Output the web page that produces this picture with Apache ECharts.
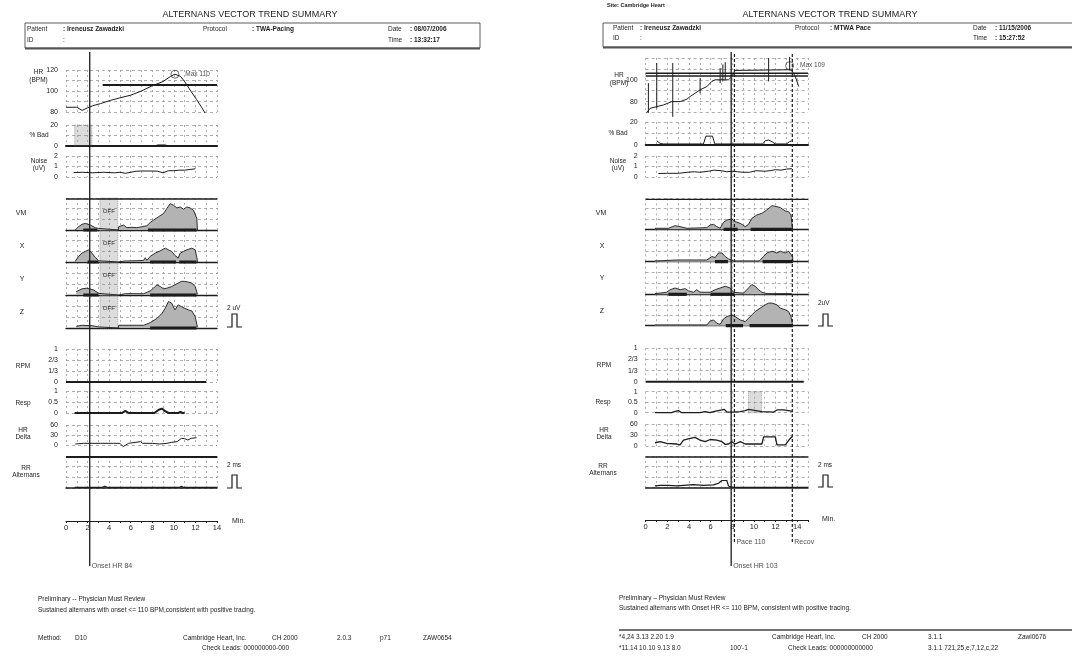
<!DOCTYPE html>
<html><head><meta charset="utf-8">
<script src="https://cdn.jsdelivr.net/npm/echarts@6/dist/echarts.min.js"></script>
<style>html,body{margin:0;padding:0;background:#fff}#c{width:1072px;height:659px}</style>
</head><body><div id="c"></div>
<script>
// ---------------- DATA ----------------
// Left report (08/07/2006, TWA-Pacing)  — [minutes, value]
const L_HR = [[0,84.5],[1,84.5],[1.5,81.5],[2,84],[2.5,86],[3.2,88],[4.1,91],[5,93.5],[6,96],[7,100],[8,105],[9,109],[9.7,114],[10.1,116],[10.6,114],[11,109],[11.5,101],[12.1,92],[12.6,84],[12.9,79]];
const L_HR_MAX = [10.1,116];
const L_HR_TARGET = [[3.4,105.7],[14,105.7]];
const L_BAD = [[0.8,0],[8.2,0],[8.5,1],[9.2,1],[9.5,0],[12.9,0]];
const L_BAD_HATCH = [0.8,2.4];
const L_NOISE = [[0.7,0.42],[1.5,0.45],[2.5,0.4],[3.5,0.45],[4.5,0.4],[5,0.45],[5.5,0.35],[6,0.45],[6.5,0.55],[7,0.57],[7.5,0.57],[8,0.57],[8.5,0.55],[9,0.4],[9.5,0.6],[10,0.6],[10.5,0.65],[11,0.65],[11.5,0.72],[12,0.78]];
const L_VM = [[0.85,0],[1.17,0.31],[1.48,0.53],[1.79,0.62],[2.25,0.46],[2.72,0.22],[3.02,0.15],[3.05,0],[4.85,0],[4.88,0.31],[5.34,0.46],[5.65,0.22],[6.11,0.25],[6.57,0.22],[7.04,0.31],[7.5,0.4],[7.81,0.71],[8.12,0.93],[8.58,1.24],[9.04,1.55],[9.35,2.01],[9.66,2.47],[9.97,2.32],[10.28,2.07],[10.59,2.16],[10.9,1.95],[11.2,2.16],[11.5,2.07],[11.82,1.86],[12.13,1.08],[12.19,0]];
const L_X = [[0.85,0.06],[1.17,0.53],[1.48,0.83],[1.79,0.99],[2.1,1.14],[2.4,0.83],[2.72,0.43],[3.02,0.12],[3.05,0],[4.85,0],[4.88,0.1],[5.5,0.1],[6.5,0.12],[7.2,0.15],[7.35,0.4],[7.5,0.15],[7.81,0.53],[8.27,0.83],[8.74,1.05],[9.2,1.3],[9.5,1.14],[9.8,0.99],[10.1,0.62],[10.4,0.37],[10.59,0.83],[10.9,0.99],[11.2,1.14],[11.67,1.3],[11.98,1.14],[12.19,0.12],[12.2,0]];
const L_Y = [[0.95,0.31],[1.48,0.56],[1.94,0.62],[2.56,0.46],[3.02,0.15],[3.05,0],[4.85,0],[4.88,0.12],[5.5,0.12],[6.5,0.12],[7.2,0.12],[7.81,0.37],[8.12,0.62],[8.43,0.93],[8.74,0.77],[9.04,0.56],[9.35,0.62],[9.8,0.77],[10.1,0.93],[10.4,1.08],[10.7,1.24],[11.0,1.24],[11.36,1.17],[11.67,1.08],[11.98,0.77],[12.19,0.06],[12.2,0]];
const L_Z = [[0.95,0.15],[1.5,0.25],[2.5,0.2],[3.0,0.1],[3.05,0],[4.85,0],[4.88,0.25],[5.5,0.25],[6.5,0.25],[7.2,0.25],[7.81,0.49],[8.43,0.87],[8.9,1.33],[9.2,1.79],[9.5,2.41],[9.8,2.26],[10.1,1.64],[10.4,2.1],[10.7,1.95],[11.0,1.79],[11.36,1.64],[11.67,1.55],[11.98,1.02],[12.19,0.06],[12.2,0]];
const L_VM_SIG = [[1.6,2.9],[7.6,12.1]];
const L_X_SIG = [[2.0,3.0],[7.8,10.2],[10.5,12.1]];
const L_Y_SIG = [[1.6,3.0],[7.8,12.1]];
const L_Z_SIG = [[7.8,12.1]];
const L_OFF = [3.15,4.8];
const L_RPM = [[0,0],[13,0]];
const L_RESP = [[0.8,0],[3.5,0],[5.2,0],[5.5,0.1],[5.8,0],[8.2,0],[8.6,0.15],[8.9,0.2],[9.2,0.08],[9.5,0],[10.4,0],[10.6,0.05],[10.8,0],[11,0]];
const L_HRD = [[0.86,3],[1.6,5],[2.4,5],[2.5,7],[3.2,5],[4.4,5],[5.0,5],[5.3,-5],[5.8,5],[6.9,10],[7.1,5],[8.0,5],[8.7,3],[9.35,5],[9.8,8],[10.3,10],[10.7,20],[11.0,19],[11.3,15],[11.6,20],[12.1,22]];
const L_RR = [[0.8,0.05],[3.3,0.05],[3.6,0.15],[3.9,0.05],[10.5,0.05],[10.7,0.15],[10.9,0.05],[14,0.05]];
const L_ONSET = [2.2];

// Right report (11/15/2006, MTWA Pace)
const R_HR = [[0.09,69.8],[0.4,73.8],[1.02,75.4],[1.64,76.9],[2.41,80],[3.18,80],[3.8,82.2],[4.1,84.6],[4.57,87.7],[5.03,90.8],[5.65,93.8],[6.11,98.5],[6.42,100],[7.65,100],[7.96,103],[8.27,108.6],[8.43,109.2],[13.2,109.2],[13.5,108.6],[13.83,103],[14.14,93.8]];
const R_HR_SPIKES = [[0.25,69.8,96.9],[1.02,73.8,115.4],[2.5,66,115.4],[5.03,87.7,101.5],[6.88,96.9,110.8],[7.13,98.5,114],[7.35,100,116.2],[11.36,98.5,120],[13.3,109,121]];
const R_HR_MAX = [13.3,113];
const R_HR_TARGET_A = [[0,105.9],[15,105.9]];
const R_HR_TARGET_B = [[0,103.4],[15,103.4]];
const R_BAD = [[1.02,3.7],[1.33,1.4],[1.64,0.9],[5.34,0.9],[5.56,7.7],[6.17,7.7],[6.39,0.9],[10.8,0.9],[11.05,3.7],[11.36,4.3],[11.67,2.9],[11.98,0.9],[13.0,0.9],[13.3,2.9],[13.5,3.7]];
const R_NOISE = [[1.17,0.33],[2,0.35],[3,0.35],[3.9,0.45],[4.5,0.5],[5,0.45],[5.8,0.55],[6.3,0.65],[7,0.6],[7.5,0.5],[8,0.55],[8.5,0.5],[9,0.45],[9.6,0.45],[10.2,0.6],[11,0.55],[11.5,0.6],[12,0.7],[12.5,0.65],[13,0.75],[13.5,0.8]];
const R_VM = [[0.86,0.1],[2.09,0.1],[2.25,0.26],[2.72,0.35],[3.18,0.26],[3.8,0.1],[5.65,0.16],[5.96,0.42],[6.27,0.48],[6.57,0.26],[6.88,0.1],[7.19,0.68],[7.5,0.9],[7.96,1.0],[8.27,0.74],[8.74,0.58],[9.2,0.26],[9.5,0.48],[9.81,1.06],[10.28,1.39],[10.74,1.55],[11.2,1.87],[11.67,2.29],[12.13,2.19],[12.44,2.1],[12.9,1.77],[13.2,1.71],[13.43,1.39],[13.58,0]];
const R_X = [[0.86,0.06],[2.9,0.16],[5.65,0.16],[6.11,0.48],[6.42,0.39],[6.73,0.81],[7.04,0.81],[7.35,0.48],[7.65,0.26],[8.12,0.06],[10.5,0.06],[10.89,0.48],[11.2,0.81],[11.67,0.97],[12.13,0.81],[12.44,0.97],[12.9,0.81],[13.2,0.97],[13.58,0.48],[13.6,0]];
const R_Y = [[0.86,0.06],[1.94,0.19],[2.25,0.42],[2.72,0.58],[3.18,0.42],[3.64,0.52],[3.95,0.32],[4.41,0.19],[4.72,0.42],[5.03,0.19],[5.96,0.19],[6.42,0.42],[6.88,0.58],[7.35,0.74],[7.81,0.58],[8.12,0.19],[9.04,0.1],[9.5,0.58],[9.81,0.9],[10.12,0.74],[10.43,0.42],[10.74,0.19],[11.2,0.06],[13.5,0.06]];
const R_Z = [[0.86,0.06],[5.65,0.06],[5.96,0.45],[6.27,0.55],[6.57,0.23],[6.88,0.13],[7.19,0.65],[7.5,0.87],[7.96,1.03],[8.27,0.87],[8.74,0.55],[9.2,0.39],[9.5,0.71],[9.81,1.03],[10.12,1.35],[10.58,1.68],[11.05,2.0],[11.36,2.16],[11.67,2.16],[12.13,2.0],[12.44,1.68],[12.9,1.52],[13.2,1.35],[13.43,0.87],[13.58,0]];
const R_VM_SIG = [[7.2,8.5],[9.7,13.6]];
const R_X_SIG = [[6.4,7.6],[10.8,13.6]];
const R_Y_SIG = [[2.1,3.8],[6.0,8.2]];
const R_Z_SIG = [[7.4,9.0],[9.6,13.6]];
const R_RPM = [[0,0],[14.6,0]];
const R_RESP = [[0.86,0],[2.4,0],[2.72,0.06],[3.02,0.1],[3.33,0],[5.03,0],[5.5,0.05],[5.96,0],[6.27,0.05],[7.04,0.13],[7.26,0.16],[7.5,0.03],[8.12,0.03],[8.74,0.05],[9.2,0.1],[9.5,0.16],[10.74,0.05],[11.82,0.03],[12.13,0.13],[12.75,0.13],[13.2,0.1],[13.58,0.06]];
const R_RESP_HATCH = [9.5,10.7];
const R_HRD = [[0.86,9],[1.33,12],[1.94,7],[2.87,5.5],[3.18,3],[3.49,16],[4.1,21],[4.57,24],[5.03,16],[5.5,12],[5.96,18],[6.57,16],[7.04,12],[7.35,4.5],[7.65,5.5],[7.96,12],[8.27,5.5],[8.74,12],[9.2,5.5],[10.74,5.5],[10.9,25],[11.98,25],[12.13,3],[12.9,3],[13.36,21],[13.58,27]];
const R_RR = [[0.86,0.13],[1.33,0.19],[2.1,0.19],[2.87,0.13],[3.49,0.19],[4.41,0.26],[5.34,0.19],[6.27,0.23],[6.73,0.39],[7.04,0.65],[7.5,0.65],[7.65,0.13],[7.96,0],[15,0]];
const R_ONSET = [7.9];
const R_PACE = [8.2];
const R_RECOV = [13.55];

// tick labels
const HR_TICKS_L = [80,100,120];
const HR_TICKS_R = [80,100];
const BAD_TICKS = [0,20];
const NOISE_TICKS = [0,1,2];
const RPM_TICKS = ['0','1/3','2/3','1'];
const RESP_TICKS = ['0','0.5','1'];
const HRD_TICKS = [0,30,60];
const MIN_TICKS = [0,2,4,6,8,10,12,14];

// ---------------- BUILD ----------------
const FONT = '"Liberation Sans", Arial, sans-serif';
const INK = '#1c1c1c', GRID = '#9a9a9a', FILL = '#b3b3b3';
const grids = [], xAxes = [], yAxes = [], series = [], graphic = [];

function panel(pg, top, height, ymin, ymax, yint, fmt, opt) {
  opt = opt || {};
  const gi = grids.length;
  grids.push({left: pg.x0, width: pg.w, top: top, height: height});
  xAxes.push({gridIndex: gi, type: 'value', min: 0, max: pg.xmax, interval: 1,
    axisLabel: {show: false}, axisTick: {show: false},
    axisLine: {show: !!opt.base, onZero: false, lineStyle: {color: INK, width: opt.base || 1}},
    splitLine: {show: opt.vgrid !== false, lineStyle: {color: GRID, type: [2, 3], width: 0.8}}});
  yAxes.push({gridIndex: gi, type: 'value', min: ymin, max: ymax, interval: yint,
    axisLine: {show: false}, axisTick: {show: false},
    axisLabel: {show: !!fmt, fontSize: 7, color: INK, fontFamily: FONT, margin: 8, formatter: fmt || undefined},
    splitLine: {show: opt.hgrid !== false, lineStyle: {color: GRID, type: [3, 3], width: 0.8}}});
  return gi;
}
function hidden(pg, top, height) {
  const gi = grids.length;
  grids.push({left: pg.x0, width: pg.w, top: top, height: height});
  xAxes.push({gridIndex: gi, type: 'value', min: 0, max: pg.xmax, show: false});
  yAxes.push({gridIndex: gi, type: 'value', min: 0, max: 1, show: false});
  return gi;
}
function line(gi, data, o) {
  o = o || {};
  const s = {type: 'line', xAxisIndex: gi, yAxisIndex: gi, data: data, symbol: 'none', silent: true,
    animation: false, clip: false, z: o.z || 3,
    lineStyle: {color: o.color || INK, width: o.w || 1, type: o.type || 'solid'}};
  if (o.fill) s.areaStyle = {color: o.fill, opacity: 1, origin: 'start'};
  if (o.markArea) s.markArea = o.markArea;
  series.push(s);
}
function sig(gi, segs) { segs.forEach(function (s) { line(gi, [[s[0], 0], [s[1], 0]], {w: 3.2, z: 5}); }); }
function hatch(gi, rng, label) {
  line(gi, [], {markArea: {silent: true,
    itemStyle: {color: 'rgba(130,130,130,0.28)', borderColor: '#777', borderWidth: 0.6, borderType: [1, 1]},
    label: {show: !!label, position: 'inside', offset: [0, -3], fontSize: 6, color: INK, fontFamily: FONT, formatter: label || ''},
    data: [[{xAxis: rng[0]}, {xAxis: rng[1]}]]}});
}
function vline(gi, t, o) { line(gi, [[t, 0], [t, 1]], o); }
function tag(gi, t, text) {
  series.push({type: 'scatter', xAxisIndex: gi, yAxisIndex: gi, data: [[t, 0]], symbolSize: 0, silent: true, animation: false,
    label: {show: true, position: 'right', distance: 2, formatter: text, fontSize: 7, color: INK, fontFamily: FONT}});
}
function maxMark(gi, p, text) {
  series.push({type: 'scatter', xAxisIndex: gi, yAxisIndex: gi, data: [p], symbol: 'circle', symbolSize: 8, silent: true,
    animation: false, z: 6, itemStyle: {color: 'rgba(0,0,0,0)', borderColor: INK, borderWidth: 0.8},
    label: {show: true, position: 'right', distance: 6, formatter: text, fontSize: 6.5, color: INK, fontFamily: FONT}});
}
function timeAxis(pg, top) {
  const gi = grids.length;
  grids.push({left: pg.x0, width: pg.w, top: top, height: 1});
  xAxes.push({gridIndex: gi, type: 'value', min: 0, max: pg.xmax, interval: 1, position: 'top',
    axisLine: {show: true, onZero: false, lineStyle: {color: INK, width: 1}},
    axisTick: {show: true, length: 2, inside: true, lineStyle: {color: INK}},
    axisLabel: {show: true, fontSize: 7.5, color: INK, fontFamily: FONT, margin: -11,
      formatter: function (v) { return MIN_TICKS.indexOf(v) >= 0 ? String(v) : ''; }},
    splitLine: {show: false}});
  yAxes.push({gridIndex: gi, type: 'value', min: 0, max: 1, show: false});
}
const only = function (arr) { return function (v) { return arr.indexOf(Math.round(v)) >= 0 ? String(Math.round(v)) : ''; }; };
const byIdx = function (arr, k) { return function (v) { const i = Math.round(v * k); return arr[i] !== undefined ? arr[i] : ''; }; };

function T(x, y, text, o) {
  o = o || {};
  graphic.push({type: 'text', x: x, y: y, silent: true, z: 10, style: {text: text,
    font: (o.bold ? 'bold ' : '') + (o.size || 7) + 'px ' + FONT, fill: o.color || INK,
    align: o.align || 'left', verticalAlign: 'middle', textAlign: o.align || 'left', textVerticalAlign: 'middle',
    lineHeight: o.lh || 8}});
}
function pulse(x, yTop, yBot) {
  graphic.push({type: 'polyline', silent: true, shape: {points: [[x, yBot], [x + 5, yBot], [x + 5, yTop], [x + 10, yTop], [x + 10, yBot], [x + 15, yBot]]},
    style: {stroke: INK, lineWidth: 1.2, fill: null}});
}

// ---- left page ----
const LP = {x0: 66, w: 151, xmax: 14};
let g;
g = panel(LP, 70, 42, 80, 120, 10, only(HR_TICKS_L));
line(g, L_HR_TARGET, {w: 1.8});
line(g, L_HR, {w: 1});
maxMark(g, L_HR_MAX, 'Max 110');
g = panel(LP, 125, 21, 0, 20, 10, only(BAD_TICKS), {base: 2});
hatch(g, L_BAD_HATCH);
line(g, L_BAD, {w: 1});
g = panel(LP, 156, 21, 0, 2, 1, only(NOISE_TICKS));
line(g, L_NOISE, {w: 1});
const LVM = [[198, 32, L_VM, L_VM_SIG], [230, 32, L_X, L_X_SIG], [262, 33, L_Y, L_Y_SIG], [295, 33, L_Z, L_Z_SIG]];
LVM.forEach(function (p) {
  const gi = panel(LP, p[0], p[1], 0, 3, 1, null, {base: 1.3});
  hatch(gi, L_OFF, 'OFF');
  line(gi, p[2], {w: 0.9, fill: FILL});
  sig(gi, p[3]);
});
g = hidden(LP, 198, 1); line(g, [[0, 0], [14, 0]], {w: 1.3});
g = panel(LP, 349, 33, 0, 1, 1 / 3, byIdx(RPM_TICKS, 3));
line(g, L_RPM, {w: 2.2});
g = panel(LP, 391, 22, 0, 1, 0.5, byIdx(RESP_TICKS, 2));
line(g, L_RESP, {w: 2});
g = panel(LP, 425, 20, 0, 60, 30, only(HRD_TICKS));
line(g, L_HRD, {w: 1});
g = panel(LP, 456, 32, 0, 3, 1, null, {base: 1.5});
line(g, L_RR, {w: 1.2});
g = hidden(LP, 456, 1); line(g, [[0, 0], [14, 0]], {w: 2});
timeAxis(LP, 521);
g = hidden(LP, 52, 514);
L_ONSET.forEach(function (t) { vline(g, t, {w: 1.3}); tag(g, t, 'Onset HR 84'); });

// ---- right page ----
const RP = {x0: 645.7, w: 162.3, xmax: 15};
g = panel(RP, 58, 54.5, 70, 120, 10, only(HR_TICKS_R));
line(g, R_HR_TARGET_A, {w: 1.5});
line(g, R_HR_TARGET_B, {w: 1.5});
R_HR_SPIKES.forEach(function (s) { line(g, [[s[0], s[1]], [s[0], s[2]]], {w: 1}); });
line(g, R_HR, {w: 1});
maxMark(g, R_HR_MAX, 'Max 109');
g = panel(RP, 122, 23, 0, 20, 10, only(BAD_TICKS), {base: 2});
line(g, R_BAD, {w: 1});
g = panel(RP, 156, 21, 0, 2, 1, only(NOISE_TICKS));
line(g, R_NOISE, {w: 1});
const RVM = [[198.3, 31, R_VM, R_VM_SIG], [229.3, 32.4, R_X, R_X_SIG], [261.7, 32.6, R_Y, R_Y_SIG], [294.3, 31.4, R_Z, R_Z_SIG]];
RVM.forEach(function (p) {
  const gi = panel(RP, p[0], p[1], 0, 3, 1, null, {base: 1.3});
  line(gi, p[2], {w: 0.9, fill: FILL});
  sig(gi, p[3]);
});
g = hidden(RP, 198.3, 1); line(g, [[0, 0], [15, 0]], {w: 1.3});
g = panel(RP, 348.3, 33.4, 0, 1, 1 / 3, byIdx(RPM_TICKS, 3));
line(g, R_RPM, {w: 2});
g = panel(RP, 391.7, 21, 0, 1, 0.5, byIdx(RESP_TICKS, 2));
hatch(g, R_RESP_HATCH);
line(g, R_RESP, {w: 1.3});
g = panel(RP, 424.3, 21.7, 0, 60, 30, only(HRD_TICKS));
line(g, R_HRD, {w: 1.3});
g = panel(RP, 456, 31.3, 0, 3, 1, null, {base: 1.5});
line(g, R_RR, {w: 1.2});
g = hidden(RP, 456, 1); line(g, [[0, 0], [15, 0]], {w: 1.3});
timeAxis(RP, 520);
g = hidden(RP, 52, 514);
R_ONSET.forEach(function (t) { vline(g, t, {w: 1.3}); tag(g, t, 'Onset HR 103'); });
g = hidden(RP, 52, 490);
R_PACE.forEach(function (t) { vline(g, t, {w: 1.2, type: [3, 2]}); tag(g, t, 'Pace 110'); });
R_RECOV.forEach(function (t) { vline(g, t, {w: 1.2, type: [3, 2]}); tag(g, t, 'Recov'); });

// ---- texts ----
// left header
T(250, 15, 'ALTERNANS VECTOR TREND SUMMARY', {size: 9, align: 'center'});
graphic.push({type: 'rect', silent: true, shape: {x: 25, y: 23, width: 455, height: 25}, style: {fill: null, stroke: '#333', lineWidth: 0.8}});
graphic.push({type: 'line', silent: true, shape: {x1: 25, y1: 48.5, x2: 480, y2: 48.5}, style: {stroke: '#555', lineWidth: 2}});
T(27, 29, 'Patient', {size: 6.5}); T(63, 29, ': Ireneusz Zawadzki', {size: 6.5, bold: true});
T(27, 40, 'ID', {size: 6.5}); T(63, 40, ':', {size: 6.5});
T(203, 29, 'Protocol', {size: 6.5}); T(252, 29, ': TWA-Pacing', {size: 6.5, bold: true});
T(388, 29, 'Date', {size: 6.5}); T(410, 29, ': 08/07/2006', {size: 6.5, bold: true});
T(388, 40, 'Time', {size: 6.5}); T(410, 40, ': 13:32:17', {size: 6.5, bold: true});
// left panel names
T(38.5, 76, 'HR\n(BPM)', {size: 6.5, align: 'center'});
T(39, 135, '% Bad', {size: 6.5, align: 'center'});
T(39, 165, 'Noise\n(uV)', {size: 6.5, align: 'center', lh: 7});
T(21, 213, 'VM', {size: 7, align: 'center'});
T(22, 246, 'X', {size: 7, align: 'center'});
T(22, 279, 'Y', {size: 7, align: 'center'});
T(22, 312, 'Z', {size: 7, align: 'center'});
T(23, 366, 'RPM', {size: 6.5, align: 'center'});
T(23, 403, 'Resp', {size: 6.5, align: 'center'});
T(23, 434, 'HR\nDelta', {size: 6.5, align: 'center', lh: 7});
T(26, 472, 'RR\nAlternans', {size: 6.5, align: 'center', lh: 7});
T(227, 308, '2 uV', {size: 6.5}); pulse(227, 314, 327);
T(227, 465, '2 ms', {size: 6.5}); pulse(227, 475, 488);
T(232, 521, 'Min.', {size: 7});
// left footer
T(38, 599, 'Preliminary -- Physician Must Review', {size: 6.5});
T(38, 610, 'Sustained alternans with onset <= 110 BPM,consistent with positive tracing.', {size: 6.5});
T(38, 638, 'Method:', {size: 6.5}); T(75, 638, 'D10', {size: 6.5});
T(183, 638, 'Cambridge Heart, Inc.', {size: 6.5}); T(272, 638, 'CH 2000', {size: 6.5});
T(337, 638, '2.0.3', {size: 6.5}); T(380, 638, 'p71', {size: 6.5}); T(423, 638, 'ZAW0654', {size: 6.5});
T(202, 648, 'Check Leads: 000000000-000', {size: 6.5});

// right header
T(607, 5, 'Site: Cambridge Heart', {size: 5.5, bold: true});
T(830, 15, 'ALTERNANS VECTOR TREND SUMMARY', {size: 9, align: 'center'});
graphic.push({type: 'rect', silent: true, shape: {x: 603, y: 23, width: 480, height: 24}, style: {fill: null, stroke: '#333', lineWidth: 0.8}});
graphic.push({type: 'line', silent: true, shape: {x1: 603, y1: 47.5, x2: 1072, y2: 47.5}, style: {stroke: '#555', lineWidth: 2}});
T(613, 28, 'Patient', {size: 6.5}); T(640, 28, ': Ireneusz Zawadzki', {size: 6.5, bold: true});
T(613, 38, 'ID', {size: 6.5}); T(640, 38, ':', {size: 6.5});
T(795, 28, 'Protocol', {size: 6.5}); T(830, 28, ': MTWA Pace', {size: 6.5, bold: true});
T(973, 28, 'Date', {size: 6.5}); T(995, 28, ': 11/15/2006', {size: 6.5, bold: true});
T(973, 38, 'Time', {size: 6.5}); T(995, 38, ': 15:27:52', {size: 6.5, bold: true});
// right panel names
T(619, 79, 'HR\n(BPM)', {size: 6.5, align: 'center'});
T(618, 133, '% Bad', {size: 6.5, align: 'center'});
T(618, 165, 'Noise\n(uV)', {size: 6.5, align: 'center', lh: 7});
T(601, 213, 'VM', {size: 7, align: 'center'});
T(602, 246, 'X', {size: 7, align: 'center'});
T(602, 278, 'Y', {size: 7, align: 'center'});
T(602, 311, 'Z', {size: 7, align: 'center'});
T(604, 365, 'RPM', {size: 6.5, align: 'center'});
T(603, 402, 'Resp', {size: 6.5, align: 'center'});
T(604, 434, 'HR\nDelta', {size: 6.5, align: 'center', lh: 7});
T(603, 470, 'RR\nAlternans', {size: 6.5, align: 'center', lh: 7});
T(818, 303, '2uV', {size: 6.5}); pulse(818, 314, 326);
T(818, 465, '2 ms', {size: 6.5}); pulse(818, 475, 487);
T(822, 519, 'Min.', {size: 7});
// right footer
T(619, 598, 'Preliminary \u2013 Physician Must Review', {size: 6.5});
T(619, 608, 'Sustained alternans with Onset HR <= 110 BPM, consistent with positive tracing.', {size: 6.5});
graphic.push({type: 'line', silent: true, shape: {x1: 619, y1: 630, x2: 1072, y2: 630}, style: {stroke: '#444', lineWidth: 1.6}});
T(619, 637, '*4,24 3.13 2.20 1.9', {size: 6.5}); T(619, 648, '*11.14 10.10 9.13 8.0', {size: 6.5});
T(730, 648, "100'-1", {size: 6.5});
T(772, 637, 'Cambridge Heart, Inc.', {size: 6.5}); T(862, 637, 'CH 2000', {size: 6.5});
T(788, 648, 'Check Leads: 000000000000', {size: 6.5});
T(928, 637, '3.1.1', {size: 6.5}); T(928, 648, '3.1.1 721,25,e,7,12,c,22', {size: 6.5});
T(1018, 637, 'Zawi0676', {size: 6.5});

const chart = echarts.init(document.getElementById('c'), null, {renderer: 'canvas'});
chart.setOption({backgroundColor: '#fff', animation: false, grid: grids, xAxis: xAxes, yAxis: yAxes, series: series, graphic: graphic});
</script></body></html>
